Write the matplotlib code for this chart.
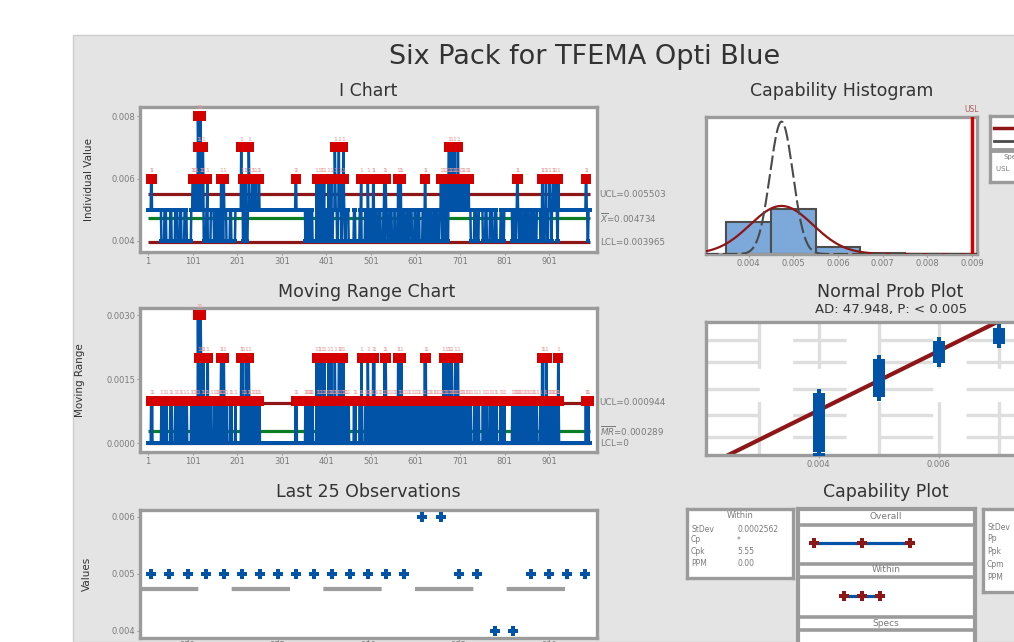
import numpy as np
import matplotlib.pyplot as plt
from matplotlib.patches import Rectangle
from statistics import NormalDist

W, H = 1014, 642

# observations in thousandths as (value, count) runs, read left to right off the I chart
runs = [
    (5, 7), (6, 2), (5, 21),
    (4, 7), (5, 4), (4, 9), (5, 3), (4, 8), (5, 5), (4, 6), (5, 3), (4, 7),
    (5, 5), (4, 10),
    (5, 3), (6, 3), (5, 4), (6, 2), (5, 3), (8, 1), (7, 2), (5, 3), (8, 1), (6, 2), (5, 2),
    (7, 1), (6, 1), (4, 6), (5, 2), (6, 1), (4, 7),
    (5, 7),
    (4, 5), (5, 3),
    (4, 2), (5, 1), (4, 2), (5, 2), (4, 1), (6, 1), (4, 2), (5, 1), (4, 2), (6, 1), (5, 1),
    (5, 4), (4, 8), (5, 3), (4, 9),
    (5, 13),
    (7, 1), (5, 2), (6, 1), (4, 3), (5, 2), (6, 2), (4, 4), (5, 2), (7, 1), (6, 1), (5, 6),
    (6, 2), (5, 5), (6, 1), (5, 6), (6, 2), (5, 9),
    (5, 72), (6, 2), (5, 20),
    (4, 2), (5, 1), (4, 3), (5, 2), (4, 2), (5, 1), (4, 3), (5, 2), (4, 9),
    (6, 1), (5, 2), (4, 3), (6, 1), (4, 2), (5, 2), (6, 2), (4, 3), (5, 1), (6, 1), (4, 2),
    (5, 3), (4, 4), (6, 1), (5, 2), (4, 2), (5, 1), (6, 1), (4, 3), (5, 2),
    (5, 2), (7, 1), (6, 1), (5, 3), (4, 2), (5, 2), (7, 1), (5, 2), (6, 2), (4, 3), (5, 2),
    (7, 1), (6, 1), (5, 2), (4, 2),
    (5, 6), (4, 12), (5, 3), (4, 10), (5, 3),
    (6, 1), (4, 8), (5, 3),
    (4, 3), (6, 1), (5, 2), (4, 4), (5, 2), (4, 3), (6, 2), (4, 3), (5, 3), (4, 5), (5, 4),
    (4, 6), (5, 2), (6, 1), (4, 2), (6, 1), (5, 4), (4, 5), (5, 4),
    (4, 6), (5, 2), (4, 6), (6, 1), (4, 2), (5, 2), (6, 2), (4, 3), (5, 4), (4, 5), (5, 3),
    (4, 4), (5, 5), (4, 6), (5, 3), (4, 5),
    (5, 3), (4, 7), (5, 3), (4, 2), (6, 2), (4, 3), (5, 4), (4, 3),
    (5, 3), (4, 5), (5, 2), (4, 4), (5, 2), (4, 5), (5, 3),
    (6, 1), (5, 2), (4, 3), (6, 2), (5, 1), (4, 3), (6, 1), (5, 2), (4, 2), (6, 1), (7, 1),
    (5, 2), (6, 2), (5, 1), (7, 1), (6, 1), (5, 3), (6, 2), (7, 1), (5, 2), (6, 1), (5, 3),
    (7, 1), (6, 2), (5, 4), (6, 1), (5, 3), (6, 2), (5, 5), (6, 1), (5, 4), (6, 2), (5, 4),
    (4, 8), (5, 5), (4, 5), (5, 9),
    (4, 6), (5, 3), (4, 7), (5, 5), (4, 6), (5, 4), (4, 9), (5, 3), (4, 5),
    (5, 18),
    (4, 4), (5, 2), (4, 3), (5, 2), (6, 2), (5, 2), (4, 4), (5, 3), (4, 5), (5, 2), (4, 4),
    (5, 3), (4, 5), (5, 3), (4, 4), (5, 2), (4, 5), (5, 8), (4, 4), (6, 2), (4, 3), (5, 3),
    (6, 2), (4, 4), (5, 3),
    (6, 1), (5, 3), (4, 1), (5, 2), (6, 2), (5, 4), (6, 1), (5, 3), (4, 2), (6, 1), (5, 8),
    (5, 35), (5, 3),
    (5, 15), (6, 2), (5, 2), (4, 2), (5, 4),
]

# summary values
MEAN = 0.004734
MR_BAR = 0.000289
SIGMA_W = MR_BAR / 1.128
SIGMA_O = 0.000706
USL = 0.009
AD_TEXT = 'AD: 47.948, P: < 0.005'

UCL = MEAN + 3 * SIGMA_W
LCL = MEAN - 3 * SIGMA_W
MR_UCL = 3.267 * MR_BAR

i_ticks = [1, 101, 201, 301, 401, 501, 601, 701, 801, 901]
hist_edges = [0.0035, 0.0045, 0.0055, 0.0065, 0.0075, 0.0085]
hist_ticks = [0.004, 0.005, 0.006, 0.007, 0.008, 0.009]
pct_grid = [1, 10, 50, 90, 99]

obs = np.repeat([v for v, c in runs], [c for v, c in runs]) / 1000.0
idx = np.arange(1, len(obs) + 1)
mr = np.abs(np.diff(obs))

BG = '#e4e4e4'
FRAME = '#9b9b9b'
BLUE = '#0053a6'
RED = '#d40000'
DRED = '#8e1616'
GREEN = '#0b7d22'
TXT = '#333333'
TICKC = '#7a7a7a'
GRID = '#dedede'
SMALL = 6

fig = plt.figure(figsize=(W / 100, H / 100), dpi=100)
fig.patch.set_facecolor('white')
fig.add_artist(Rectangle((73 / W, 0), 1, 1 - 35 / H, transform=fig.transFigure,
                         facecolor=BG, edgecolor='#cdcdcd', lw=1, zorder=-5))


def px_axes(l, t, r, b, lw=2.4):
    ax = fig.add_axes([l / W, 1 - b / H, (r - l) / W, (b - t) / H])
    ax.set_facecolor('white')
    for s in ax.spines.values():
        s.set_color(FRAME)
        s.set_linewidth(lw)
    ax.tick_params(length=2, width=0.8, color=FRAME, labelsize=SMALL,
                   labelcolor=TICKC, pad=1.5)
    return ax


def ftext(x, y, s, **kw):
    kw.setdefault('ha', 'center')
    kw.setdefault('va', 'center')
    kw.setdefault('color', TXT)
    fig.text(x / W, 1 - y / H, s, **kw)


def side_labels(ax, items):
    for y, s in items:
        ax.text(1.006, y, s, transform=ax.get_yaxis_transform(), fontsize=6.3,
                color=TICKC, ha='left', va='center')


def flag_labels(ax, xs, ys):
    for xi, yi in zip(xs, ys):
        ax.annotate('1', (xi, yi), xytext=(0, 4), textcoords='offset points',
                    ha='center', va='bottom', fontsize=4.5, color='#e79a9a')


ftext(585, 57, 'Six Pack for TFEMA Opti Blue', fontsize=19.5)
ftext(368, 91, 'I Chart', fontsize=12.5)
ftext(367, 292, 'Moving Range Chart', fontsize=12.5)
ftext(368, 492, 'Last 25 Observations', fontsize=12.5)
ftext(842, 91, 'Capability Histogram', fontsize=12.5)
ftext(890, 292, 'Normal Prob Plot', fontsize=12.5)
ftext(891, 309, AD_TEXT, fontsize=9.5)
ftext(886, 492, 'Capability Plot', fontsize=12.5)

# I chart
ax = px_axes(140, 107, 597, 252)
ax.hlines([UCL, LCL], 1, idx[-1], color=DRED, lw=2.3, zorder=2)
ax.hlines(MEAN, 1, idx[-1], color=GREEN, lw=2.3, zorder=2)
ax.plot(idx, obs, color=BLUE, lw=1.8, marker='s', ms=3, mew=0, zorder=3)
hi = obs > UCL
ax.plot(idx[hi], obs[hi], 's', color=RED, ms=7, mew=0, zorder=4)
flag_labels(ax, idx[hi], obs[hi])
ax.set_xlim(-17, 1008)
ax.set_ylim(0.003648, 0.008288)
ax.set_xticks(i_ticks)
ax.set_yticks([0.004, 0.006, 0.008])
ax.set_yticklabels(['0.004', '0.006', '0.008'])
ax.set_ylabel('Individual Value', fontsize=7.5, color=TXT)
ax.yaxis.set_label_coords(-0.1, 0.5)
side_labels(ax, [(UCL, f'UCL={UCL:.6f}'),
                 (MEAN, r'$\overline{X}$' + f'={MEAN:.6f}'),
                 (LCL, f'LCL={LCL:.6f}')])

# Moving range chart
ax = px_axes(140, 308, 597, 452)
ax.hlines([MR_UCL, 0], 2, idx[-1], color=DRED, lw=2.3, zorder=2)
ax.hlines(MR_BAR, 2, idx[-1], color=GREEN, lw=2.3, zorder=2)
ax.plot(idx[1:], mr, color=BLUE, lw=1.8, marker='s', ms=3, mew=0, zorder=3)
hm = mr > MR_UCL
ax.plot(idx[1:][hm], mr[hm], 's', color=RED, ms=7, mew=0, zorder=4)
flag_labels(ax, idx[1:][hm], mr[hm])
ax.set_xlim(-17, 1008)
ax.set_ylim(-0.000203, 0.003164)
ax.set_xticks(i_ticks)
ax.set_yticks([0, 0.0015, 0.003])
ax.set_yticklabels(['0.0000', '0.0015', '0.0030'])
ax.set_ylabel('Moving Range', fontsize=7.5, color=TXT)
ax.yaxis.set_label_coords(-0.12, 0.5)
side_labels(ax, [(MR_UCL, f'UCL={MR_UCL:.6f}'),
                 (MR_BAR, r'$\overline{MR}$' + f'={MR_BAR:.6f}'),
                 (0, 'LCL=0')])

# Last 25 observations
ax = px_axes(140, 510, 597, 638)
ax.axhline(MEAN, color='#9d9d9d', lw=3, ls=(0, (14, 8)), zorder=2)
ax.plot(idx[-25:], obs[-25:], 'P', color=BLUE, ms=6.5, mew=0, zorder=3)
ax.set_xlim(idx[-25] - 0.63, idx[-1] + 0.66)
ax.set_ylim(0.00387, 0.00612)
ax.set_xticks(idx[-25:][2::5])
ax.tick_params(axis='x', pad=0.5)
ax.set_yticks([0.004, 0.005, 0.006])
ax.set_yticklabels(['0.004', '0.005', '0.006'])
ax.set_ylabel('Values', fontsize=7.5, color=TXT)
ax.yaxis.set_label_coords(-0.105, 0.5)

# Capability histogram
ax = px_axes(706, 117, 977, 254)
ax.hist(obs, bins=hist_edges, density=True, color='#7ca8da',
        edgecolor='#4d4d4d', lw=1.5, zorder=2)
xs = np.linspace(0.0030, 0.0092, 500)
ax.plot(xs, [NormalDist(MEAN, SIGMA_O).pdf(v) for v in xs], color=DRED, lw=1.6, zorder=3)
ax.plot(xs, [NormalDist(MEAN, SIGMA_W).pdf(v) for v in xs], color='#4a4a4a',
        lw=1.5, ls=(0, (7, 2)), zorder=3)
ax.axvline(USL, color=RED, lw=2.5, zorder=4)
ax.text(USL, 1.02, 'USL', transform=ax.get_xaxis_transform(), ha='center',
        va='bottom', fontsize=5.5, color='#a86060')
ax.set_xlim(0.003044, 0.00911)
ax.set_ylim(0, 1611)
ax.set_yticks([])
ax.set_xticks(hist_ticks)
ax.set_xticklabels([f'{t:.3f}' for t in hist_ticks])

# histogram legend boxes (cut by the figure edge)
lg = px_axes(990, 116, 1075, 182)
lg.set_xlim(990, 1075)
lg.set_ylim(182, 116)
lg.set_xticks([])
lg.set_yticks([])
lg.axhline(150, color=FRAME, lw=3.5)
lg.plot([994, 1016], [128, 128], color=DRED, lw=2.5)
lg.plot([994, 1016], [141, 141], color='#4a4a4a', lw=2)
lg.text(1019, 128, 'Overall', fontsize=5.5, color=TICKC, va='center')
lg.text(1019, 141, 'Within', fontsize=5.5, color=TICKC, va='center')
lg.text(1003, 157, 'Specs', fontsize=5, color=TICKC, va='center')
lg.text(996, 169, f'USL  {USL}', fontsize=5, color=TICKC, va='center')

# Normal probability plot
ax = px_axes(706, 322, 1075, 455)
nd = NormalDist()
zs = [nd.inv_cdf((i - 0.3) / (len(obs) + 0.4)) for i in idx]
for g in [0.003, 0.004, 0.005, 0.006, 0.007, 0.008]:
    ax.axvline(g, color=GRID, lw=2.4, ls=(0, (16, 10)), zorder=1)
for p in pct_grid:
    ax.axhline(nd.inv_cdf(p / 100), color=GRID, lw=2.4, ls=(0, (16, 10)), zorder=1)
zl = np.array([-3.6, 3.6])
ax.plot(MEAN + SIGMA_O * zl, zl, color=DRED, lw=3, zorder=2)
ax.plot(np.sort(obs), zs, 'P', color=BLUE, ms=8, mew=0, zorder=3)
ax.set_xlim(0.002124, 0.008266)
ax.set_ylim(-3.17, 3.17)
ax.set_yticks([])
ax.set_xticks([0.004, 0.006])
ax.set_xticklabels(['0.004', '0.006'])

# Capability plot: stats boxes and interval rows
sw = px_axes(687, 509, 793, 578)
sw.set_xlim(687, 793)
sw.set_ylim(578, 509)
sw.set_xticks([])
sw.set_yticks([])
sw.text(740, 515, 'Within', fontsize=6, color=TICKC, ha='center', va='center')
cpk = (USL - MEAN) / (3 * SIGMA_W)
for y, a, b in [(529, 'StDev', f'{SIGMA_W:.7f}'), (540, 'Cp', '*'),
                (552, 'Cpk', f'{cpk:.2f}'), (564, 'PPM', '0.00')]:
    sw.text(691, y, a, fontsize=5.5, color=TICKC, va='center')
    sw.text(737, y, b, fontsize=5.5, color=TICKC, va='center')

so = px_axes(983, 509, 1075, 592)
so.set_xlim(983, 1075)
so.set_ylim(592, 509)
so.set_xticks([])
so.set_yticks([])
so.text(1030, 515, 'Overall', fontsize=6, color=TICKC, ha='center', va='center')
ppk = (USL - MEAN) / (3 * SIGMA_O)
for y, a, b in [(528, 'StDev', f'{SIGMA_O:.7f}'), (539, 'Pp', '*'),
                (552, 'Ppk', f'{ppk:.2f}'), (565, 'Cpm', '*'), (578, 'PPM', '0.00')]:
    so.text(987, y, a, fontsize=5.5, color=TICKC, va='center')
    so.text(1030, y, b, fontsize=5.5, color=TICKC, va='center')

cp = px_axes(798, 509, 975, 665, lw=3)
cp.set_xlim(MEAN - 64 / 22800, MEAN + 113 / 22800)
cp.set_ylim(665, 509)
cp.set_xticks([])
cp.set_yticks([])
for y in [524.5, 563.5, 576.5, 616.5, 630]:
    cp.axhline(y, color=FRAME, lw=2.6)
for y, s in [(516.5, 'Overall'), (570, 'Within'), (623.5, 'Specs')]:
    cp.text(MEAN + 24 / 22800, y, s, fontsize=6.5, color=TICKC, ha='center', va='center')
for y, sd in [(543, SIGMA_O), (596, SIGMA_W)]:
    ends = [MEAN - 3 * sd, MEAN, MEAN + 3 * sd]
    cp.plot([ends[0], ends[2]], [y, y], color=BLUE, lw=2.3, zorder=2)
    cp.plot(ends, [y, y, y], 'P', color=DRED, ms=7, mew=0, zorder=3)

fig.savefig('out.png', dpi=100, facecolor=fig.get_facecolor())
